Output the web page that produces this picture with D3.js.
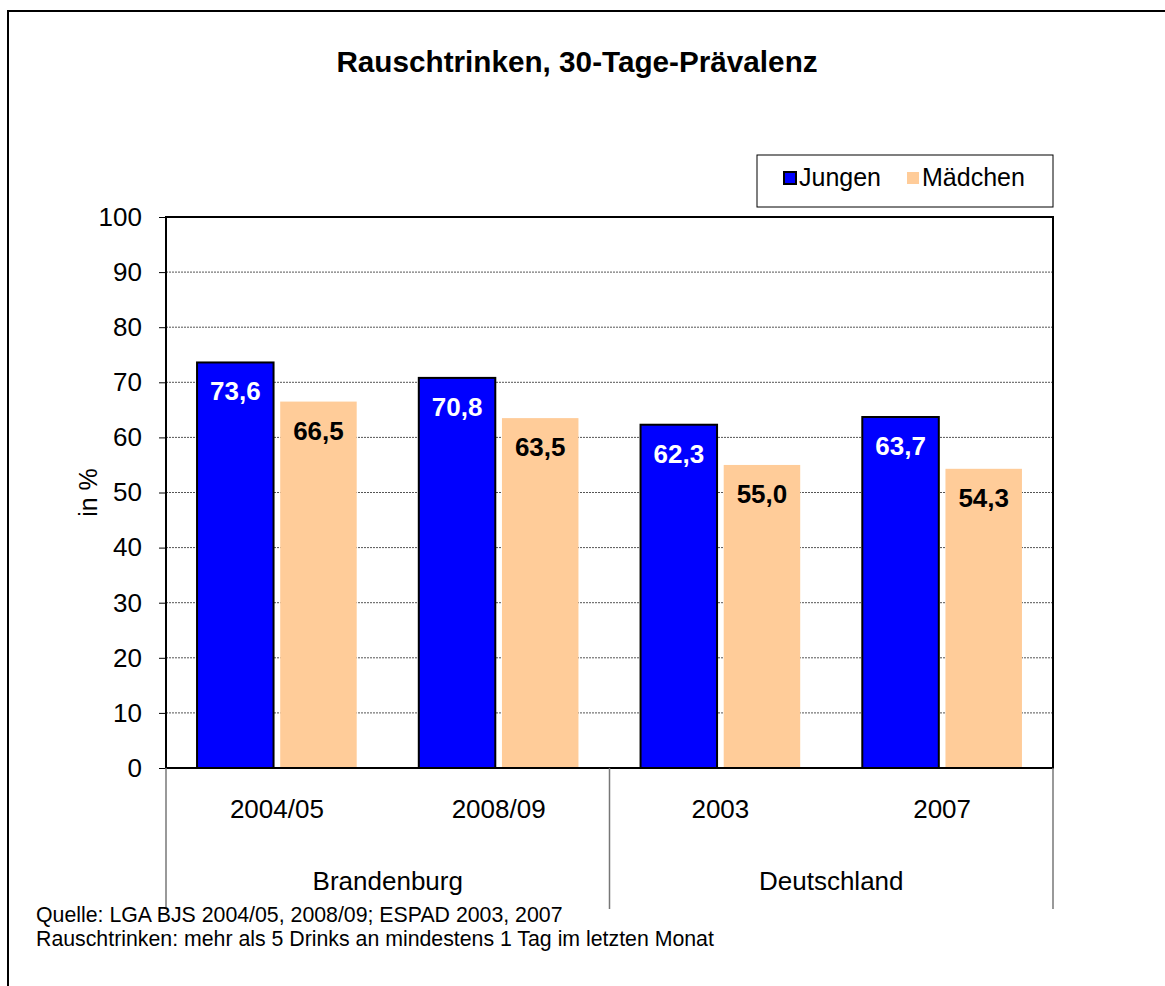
<!DOCTYPE html>
<html><head><meta charset="utf-8">
<script src="https://cdn.jsdelivr.net/npm/d3@7"></script>
<style>body{margin:0;background:#fff;}svg{display:block;font-family:Arial,"Liberation Sans",sans-serif;}</style>
</head><body>
<script>
const categories = ["2004/05", "2008/09", "2003", "2007"];
const regions = ["Brandenburg", "Deutschland"];
const regionOfCategory = ["Brandenburg", "Brandenburg", "Deutschland", "Deutschland"];
const seriesNames = ["Jungen", "Mädchen"];
const jungen = [73.6, 70.8, 62.3, 63.7];
const maedchen = [66.5, 63.5, 55.0, 54.3];
const yTicks = [0, 10, 20, 30, 40, 50, 60, 70, 80, 90, 100];
const colors = ["#0000FF", "#FFCC99"];

const W = 1165, H = 986;
const FONT = "Arial, 'Liberation Sans', sans-serif";
const svg = d3.select("body").append("svg").attr("width", W).attr("height", H);

// outer frame
svg.append("rect").attr("x", 8).attr("y", 11).attr("width", W + 10).attr("height", H + 10)
  .attr("fill", "none").attr("stroke", "#000").attr("stroke-width", 2);

const plot = {left: 166, right: 1053, top: 217, bottom: 768};
const y = d3.scaleLinear().domain([0, 100]).range([plot.bottom, plot.top]);
const x0 = d3.scaleBand().domain(categories).range([plot.left, plot.right]).paddingInner(0.28).paddingOuter(0.14);
const x1 = d3.scaleBand().domain(seriesNames).range([0, x0.bandwidth()]).paddingInner(0.08);

// title
svg.append("text").attr("x", 577).attr("y", 72).attr("text-anchor", "middle")
  .attr("font-size", 29.7).attr("font-weight", "bold").text("Rauschtrinken, 30-Tage-Prävalenz");

// gridlines
svg.append("g").selectAll("line").data(yTicks.filter(d => d > 0 && d < 100)).join("line")
  .attr("x1", plot.left).attr("x2", plot.right).attr("y1", d => y(d)).attr("y2", d => y(d))
  .attr("stroke", "#555").attr("stroke-width", 1).attr("stroke-dasharray", "2,1");

// y axis
const yAxis = d3.axisLeft(y).tickValues(yTicks).tickSize(7).tickPadding(17).tickFormat(d3.format("d"));
const gy = svg.append("g").attr("transform", `translate(${plot.left},0)`).call(yAxis);
gy.select(".domain").remove();
gy.selectAll(".tick line").attr("stroke", "#000");
gy.selectAll(".tick text").attr("font-size", 26).attr("fill", "#000").attr("font-family", FONT);

// y label
svg.append("text").attr("transform", `translate(97,${(plot.top + plot.bottom) / 2}) rotate(-90)`)
  .attr("text-anchor", "middle").attr("font-size", 25).text("in %");

// bars
const data = categories.map((c, i) => ({cat: c, vals: [jungen[i], maedchen[i]]}));
const groups = svg.append("g").selectAll("g").data(data).join("g")
  .attr("transform", d => `translate(${x0(d.cat)},0)`);
groups.selectAll("rect").data(d => d.vals.map((v, j) => ({v, s: seriesNames[j], j}))).join("rect")
  .attr("x", d => x1(d.s)).attr("width", x1.bandwidth())
  .attr("y", d => y(d.v)).attr("height", d => plot.bottom - y(d.v))
  .attr("fill", d => colors[d.j])
  .attr("stroke", d => d.j === 0 ? "#000" : "none").attr("stroke-width", 2);
groups.selectAll("text").data(d => d.vals.map((v, j) => ({v, s: seriesNames[j], j}))).join("text")
  .attr("x", d => x1(d.s) + x1.bandwidth() / 2).attr("y", d => y(d.v) + 38)
  .attr("text-anchor", "middle").attr("font-size", 26).attr("font-weight", "bold")
  .attr("fill", d => d.j === 0 ? "#fff" : "#000")
  .text(d => d3.format(".1f")(d.v).replace(".", ","));

// plot border
svg.append("rect").attr("x", plot.left).attr("y", plot.top)
  .attr("width", plot.right - plot.left).attr("height", plot.bottom - plot.top)
  .attr("fill", "none").attr("stroke", "#000").attr("stroke-width", 2);

// category labels
const step = (plot.right - plot.left) / categories.length;
svg.append("g").selectAll("text").data(categories).join("text")
  .attr("x", (d, i) => plot.left + step * (i + 0.5)).attr("y", 818)
  .attr("text-anchor", "middle").attr("font-size", 26).text(d => d);

// region separators and labels
const regionBounds = regions.map(r => {
  const idx = regionOfCategory.map((rc, i) => rc === r ? i : -1).filter(i => i >= 0);
  return {r, x0: plot.left + step * d3.min(idx), x1: plot.left + step * (d3.max(idx) + 1)};
});
const sepX = Array.from(new Set(regionBounds.flatMap(b => [b.x0, b.x1])));
svg.append("g").selectAll("line").data(sepX).join("line")
  .attr("x1", d => d).attr("x2", d => d).attr("y1", plot.bottom).attr("y2", 909)
  .attr("stroke", "#777").attr("stroke-width", 1.5);
svg.append("g").selectAll("text").data(regionBounds).join("text")
  .attr("x", d => (d.x0 + d.x1) / 2).attr("y", 890)
  .attr("text-anchor", "middle").attr("font-size", 26).text(d => d.r);

// legend
const lg = svg.append("g");
lg.append("rect").attr("x", 757).attr("y", 155).attr("width", 296).attr("height", 52)
  .attr("fill", "#fff").attr("stroke", "#000").attr("stroke-width", 1);
const legX = [784, 907];
seriesNames.forEach((s, i) => {
  lg.append("rect").attr("x", legX[i]).attr("y", 172).attr("width", 12).attr("height", 12)
    .attr("fill", colors[i]).attr("stroke", i === 0 ? "#000" : "none").attr("stroke-width", 2);
  lg.append("text").attr("x", legX[i] + 15).attr("y", 186).attr("font-size", 25).text(s);
});

// footnotes
svg.append("text").attr("x", 36).attr("y", 922).attr("font-size", 21.3).text("Quelle: LGA BJS 2004/05, 2008/09; ESPAD 2003, 2007");
svg.append("text").attr("x", 36).attr("y", 946).attr("font-size", 21.3).text("Rauschtrinken: mehr als 5 Drinks an mindestens 1 Tag im letzten Monat");
</script>
</body></html>
